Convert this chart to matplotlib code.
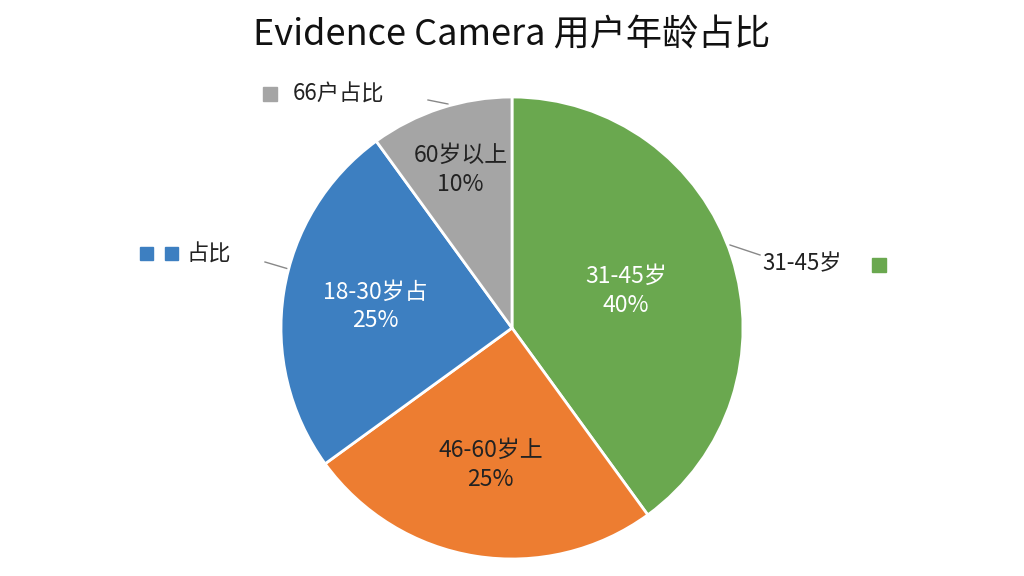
import matplotlib
matplotlib.use("Agg")
import matplotlib.pyplot as plt
import numpy as np

plt.rcParams['font.family'] = ['Noto Sans CJK SC', 'DejaVu Sans']

labels = ["31-45岁", "46-60岁上", "18-30岁占", "60岁以上"]
values = [40, 25, 25, 10]
colors = ["#6AA84F", "#ED7D31", "#3D7FC1", "#A5A5A5"]
text_colors = ["white", "#222222", "white", "#222222"]

fig = plt.figure(figsize=(10.24, 5.76), dpi=100)
fig.patch.set_facecolor("white")
ax = fig.add_axes([0, 0, 1, 1])
ax.set_xlim(0, 1024)
ax.set_ylim(576, 0)
ax.axis("off")

R = 231
pax = fig.add_axes([(512-R)/1024, 1-(328+R)/576, 2*R/1024, 2*R/576])
wedges, _ = pax.pie(values, colors=colors, startangle=90, counterclock=False,
                    wedgeprops=dict(edgecolor="white", linewidth=2))
pax.set_xlim(-1, 1)
pax.set_ylim(-1, 1)
pax.set_aspect("auto")

ang = 90.0
radii = [0.52, 0.6, 0.6, 0.72]
for v, lab, tc, r in zip(values, labels, text_colors, radii):
    mid = np.deg2rad(ang - v*3.6/2)
    ang -= v*3.6
    pax.text(r*np.cos(mid), r*np.sin(mid), f"{lab}\n{v}%", ha="center", va="center",
             fontsize=16.5, color=tc, linespacing=1.3)

fig.text(0.5, 1-35/576, "Evidence Camera 用户年龄占比", ha="center", va="center",
         fontsize=26, fontweight="medium", color="#111111")

# outer callouts
ax.plot([428, 448, 456], [100, 104, 118], color="#888888", lw=1)
ax.add_patch(plt.Rectangle((263, 87), 14, 14, color="#A5A5A5"))
ax.text(293, 94, "66户占比", fontsize=16, va="center", color="#222222")

ax.plot([265, 292], [262, 270], color="#888888", lw=1)
ax.add_patch(plt.Rectangle((140, 247), 13, 13, color="#3D7FC1"))
ax.add_patch(plt.Rectangle((165, 247), 13, 13, color="#3D7FC1"))
ax.text(187, 254, "占比", fontsize=16, va="center", color="#222222")

ax.plot([730, 760], [245, 255], color="#888888", lw=1)
ax.text(762, 264, "31-45岁", fontsize=16, va="center", color="#222222")
ax.add_patch(plt.Rectangle((872, 258), 14, 14, color="#6AA84F"))

fig.savefig("out.png", dpi=100, facecolor="white")
